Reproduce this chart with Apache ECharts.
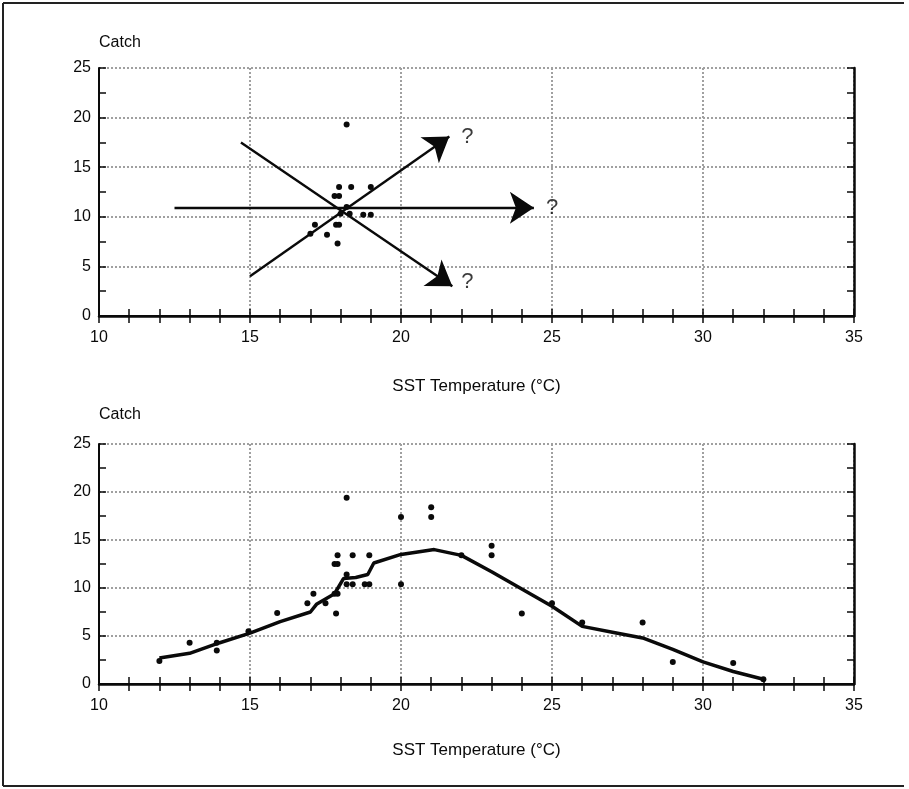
<!DOCTYPE html>
<html>
<head>
<meta charset="utf-8">
<title>Catch vs SST</title>
<script src="https://cdn.jsdelivr.net/npm/echarts@6/dist/echarts.min.js"></script>
<style>
  html, body { margin: 0; padding: 0; background: #fff; }
  #chart { width: 909px; height: 789px; }
</style>
</head>
<body>
<div id="chart"></div>
<script>
// top panel: observed points around 18 degrees
var topTemp  = [18.2, 17.95, 18.35, 19.0, 17.8, 17.95, 18.2, 18.0, 18.3, 18.75, 19.0, 17.15, 17.0, 17.55, 17.85, 17.95, 17.9];
var topCatch = [19.3, 13.0, 13.0, 13.0, 12.1, 12.1, 11.0, 10.3, 10.3, 10.2, 10.2, 9.2, 8.3, 8.2, 9.2, 9.2, 7.3];

// arrows (start / end) and the question marks
var arrowFrom = [[12.5, 10.9], [15.0, 4.0], [14.7, 17.5]];
var arrowTo   = [[24.4, 10.9], [21.6, 18.1], [21.7, 3.0]];
var askTemp  = [22.2, 25.0, 22.2];
var askCatch = [18.1, 10.9, 3.4];

// bottom panel: full set of observations
var bottomTemp  = [12.0, 13.0, 13.9, 13.9, 14.95, 15.9, 16.9, 17.1, 17.5, 17.8, 17.9, 17.85, 17.9, 18.4, 18.95,
                   17.8, 17.9, 18.2, 18.2, 18.4, 18.8, 18.95, 18.2, 20.0, 20.0, 21.0, 21.0, 22.0, 23.0, 23.0,
                   24.0, 25.0, 26.0, 28.0, 29.0, 31.0, 32.0];
var bottomCatch = [2.4, 4.3, 4.3, 3.5, 5.5, 7.4, 8.4, 9.4, 8.4, 9.4, 9.4, 7.35, 13.4, 13.4, 13.4,
                   12.5, 12.5, 11.4, 10.4, 10.4, 10.4, 10.4, 19.4, 17.4, 10.4, 18.4, 17.4, 13.4, 14.4, 13.4,
                   7.35, 8.4, 6.4, 6.4, 2.3, 2.2, 0.5];

// fitted curve
var fitTemp  = [12, 13, 14, 15, 16, 17, 17.2, 17.8, 18.1, 18.5, 18.9, 19.1, 20, 21.1, 22, 23, 24, 25, 26, 27, 28, 29, 30, 31, 32];
var fitCatch = [2.7, 3.2, 4.3, 5.3, 6.5, 7.5, 8.3, 9.4, 11.0, 11.1, 11.4, 12.6, 13.5, 14.0, 13.4, 11.7, 9.9, 8.1, 6.0, 5.4, 4.8, 3.6, 2.3, 1.3, 0.5];

var xTicks = { min: 10, max: 35, step: 5 };
var yTicks = { min: 0, max: 25, step: 5 };

function pairs(xs, ys) {
  return xs.map(function (x, i) { return [x, ys[i]]; });
}

var font = "'Liberation Sans', Arial, sans-serif";
var ink = '#0a0a0a';
var gridGray = '#a0a0a0';

function bottomX(gridIndex, gap) {
  return {
    gridIndex: gridIndex, type: 'value', position: 'bottom',
    min: xTicks.min, max: xTicks.max, interval: xTicks.step,
    name: 'SST Temperature (°C)', nameLocation: 'middle', nameGap: gap,
    nameTextStyle: { fontFamily: font, fontSize: 17, color: ink },
    axisLine: { show: true, lineStyle: { color: ink, width: 2 } },
    axisTick: { show: true, inside: true, length: 7, lineStyle: { color: ink, width: 1.5 } },
    minorTick: { show: true, splitNumber: 5, length: 7, lineStyle: { color: ink, width: 1.5 } },
    axisLabel: { fontFamily: font, fontSize: 16, color: ink, margin: 14 },
    splitLine: { show: true, lineStyle: { color: gridGray, type: 'dotted', width: 2 } }
  };
}
function topX(gridIndex) {
  return {
    gridIndex: gridIndex, type: 'value', position: 'top',
    min: xTicks.min, max: xTicks.max, interval: xTicks.step,
    axisLine: { show: true, lineStyle: { color: ink, width: 2.5 } },
    axisTick: { show: true, inside: true, length: 7, lineStyle: { color: ink, width: 1.5 } },
    minorTick: { show: true, splitNumber: 5, length: 7, lineStyle: { color: ink, width: 1.5 } },
    axisLabel: { show: false },
    splitLine: { show: false }
  };
}
function leftY(gridIndex, gap) {
  return {
    gridIndex: gridIndex, type: 'value', position: 'left',
    min: yTicks.min, max: yTicks.max, interval: yTicks.step,
    name: 'Catch', nameLocation: 'end', nameGap: gap,
    nameTextStyle: { fontFamily: font, fontSize: 16, color: ink, align: 'left' },
    axisLine: { show: true, lineStyle: { color: ink, width: 2 } },
    axisTick: { show: true, inside: true, length: 7, lineStyle: { color: ink, width: 1.5 } },
    minorTick: { show: true, splitNumber: 2, length: 7, lineStyle: { color: ink, width: 1.5 } },
    axisLabel: { fontFamily: font, fontSize: 16, color: ink, margin: 8 },
    splitLine: { show: true, lineStyle: { color: gridGray, type: 'dotted', width: 2 } }
  };
}
function rightY(gridIndex) {
  return {
    gridIndex: gridIndex, type: 'value', position: 'right',
    min: yTicks.min, max: yTicks.max, interval: yTicks.step,
    axisLine: { show: true, lineStyle: { color: ink, width: 2.5 } },
    axisTick: { show: true, inside: true, length: 7, lineStyle: { color: ink, width: 1.5 } },
    minorTick: { show: true, splitNumber: 2, length: 7, lineStyle: { color: ink, width: 1.5 } },
    axisLabel: { show: false },
    splitLine: { show: false }
  };
}

var myChart = echarts.init(document.getElementById('chart'));

var arrows = arrowFrom.map(function (p, i) { return { coords: [p, arrowTo[i]] }; });

myChart.setOption({
  animation: false,
  backgroundColor: '#fff',
  grid: [
    { left: 99, right: 55, top: 68, height: 248 },
    { left: 99, right: 55, top: 444, height: 240 }
  ],
  xAxis: [bottomX(0, 62), topX(0), bottomX(1, 58), topX(1)],
  yAxis: [leftY(0, 17), rightY(0), leftY(1, 21), rightY(1)],
  graphic: [
    { type: 'line', shape: { x1: 3, y1: 3, x2: 904, y2: 3 }, style: { stroke: '#222', lineWidth: 2 } },
    { type: 'line', shape: { x1: 3, y1: 3, x2: 3, y2: 786 }, style: { stroke: '#222', lineWidth: 2 } },
    { type: 'line', shape: { x1: 3, y1: 786, x2: 904, y2: 786 }, style: { stroke: '#222', lineWidth: 2 } }
  ],
  series: [
    {
      name: 'top points', type: 'scatter', xAxisIndex: 0, yAxisIndex: 0,
      symbolSize: 6, itemStyle: { color: ink, opacity: 1 },
      data: pairs(topTemp, topCatch)
    },
    {
      name: 'arrows', type: 'lines', coordinateSystem: 'cartesian2d', xAxisIndex: 0, yAxisIndex: 0,
      symbol: ['none', 'arrow'], symbolSize: [1, 24],
      lineStyle: { color: ink, width: 2.4, opacity: 1, curveness: 0 },
      data: arrows
    },
    {
      name: 'questions', type: 'scatter', xAxisIndex: 0, yAxisIndex: 0,
      symbolSize: 1, itemStyle: { color: 'rgba(0,0,0,0)' },
      label: { show: true, position: 'inside', formatter: '?', fontFamily: font, fontSize: 22, color: ink },
      data: pairs(askTemp, askCatch)
    },
    {
      name: 'bottom points', type: 'scatter', xAxisIndex: 2, yAxisIndex: 2,
      symbolSize: 6, itemStyle: { color: ink, opacity: 1 },
      data: pairs(bottomTemp, bottomCatch)
    },
    {
      name: 'fit', type: 'line', xAxisIndex: 2, yAxisIndex: 2,
      showSymbol: false, smooth: false,
      lineStyle: { color: ink, width: 3.5 },
      data: pairs(fitTemp, fitCatch)
    }
  ]
});
</script>
</body>
</html>
